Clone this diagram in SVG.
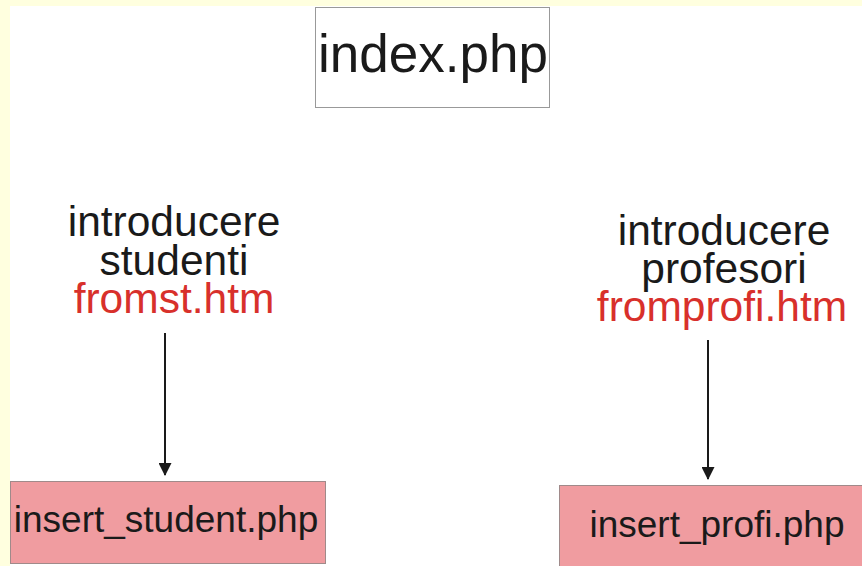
<svg xmlns="http://www.w3.org/2000/svg" width="862" height="566" viewBox="0 0 862 566">
<style>
text{font-family:"Liberation Sans",Arial,sans-serif;text-anchor:middle}
.blk{fill:#1a1a1a}
.red{fill:#d8302b}
.pink{fill:#f09ca0;stroke:#a08a8a;stroke-width:1}
.conn{stroke:#1a1a1a;stroke-width:2;fill:none}
</style>
<defs>
<marker id="ah" markerWidth="13" markerHeight="13" refX="12" refY="6.5" orient="auto" markerUnits="userSpaceOnUse" viewBox="0 0 13 13">
<path d="M0,0 L13,6.5 L0,13 Z" fill="#1a1a1a"/>
</marker>
</defs>
<rect x="0" y="0" width="862" height="566" fill="#ffffff"/>
<rect x="0" y="0" width="862" height="6" fill="#ffffdf"/>
<rect x="0" y="0" width="10" height="566" fill="#ffffdf"/>
<g id="index">
<rect x="315.5" y="7.5" width="234" height="100" fill="#ffffff" stroke="#999999"/>
<text x="433" y="72" font-size="53" class="blk">index.php</text>
</g>
<g id="fromst">
<text x="174" y="236" font-size="42.5" class="blk">introducere</text>
<text x="174" y="275" font-size="42.5" class="blk">studenti</text>
<text x="174" y="313" font-size="42.5" class="red">fromst.htm</text>
</g>
<g id="fromprofi">
<text x="724" y="245" font-size="42.5" class="blk">introducere</text>
<text x="724" y="283" font-size="42.5" class="blk">profesori</text>
<text x="722" y="321" font-size="42.5" class="red">fromprofi.htm</text>
</g>
<g id="insert_student">
<rect x="10.5" y="481.5" width="315" height="82" class="pink"/>
<text x="166" y="532" font-size="37" class="blk">insert_student.php</text>
</g>
<g id="insert_profi">
<rect x="559.5" y="485.5" width="310" height="90" class="pink"/>
<text x="717" y="537" font-size="37" class="blk">insert_profi.php</text>
</g>
<g id="connectors">
<line x1="165" y1="333" x2="165" y2="475" class="conn" marker-end="url(#ah)"/>
<line x1="708" y1="340" x2="708" y2="479" class="conn" marker-end="url(#ah)"/>
</g>
</svg>
